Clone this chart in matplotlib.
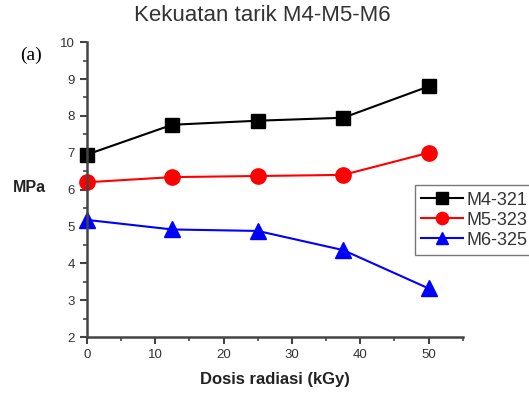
import matplotlib.pyplot as plt
from matplotlib.ticker import MultipleLocator

plt.rcParams['font.family'] = ['Liberation Sans', 'DejaVu Sans']

# Dosis radiasi (kGy) dan kekuatan tarik (MPa)
dosis = [0, 12.5, 25, 37.5, 50]
m4_321 = [6.95, 7.76, 7.87, 7.95, 8.80]
m5_323 = [6.20, 6.34, 6.37, 6.40, 7.00]
m6_325 = [5.18, 4.92, 4.88, 4.36, 3.32]

fig = plt.figure(figsize=(5.29, 3.98), dpi=100)
ax = fig.add_axes([0.164, 0.153, 0.711, 0.741])

ax.plot(dosis, m4_321, color='black', marker='s', markersize=10, lw=1.5,
        label='M4-321', clip_on=False)
ax.plot(dosis, m5_323, color='red', marker='o', markersize=11, lw=1.5,
        label='M5-323', clip_on=False)
ax.plot(dosis, m6_325, color='blue', marker='^', markersize=11, lw=1.5,
        label='M6-325', clip_on=False)

ax.set_xlim(0, 55)
ax.set_ylim(2, 10)
ax.xaxis.set_major_locator(MultipleLocator(10))
ax.xaxis.set_minor_locator(MultipleLocator(5))
ax.yaxis.set_major_locator(MultipleLocator(1))
ax.yaxis.set_minor_locator(MultipleLocator(0.5))

for s in ['top', 'right']:
    ax.spines[s].set_visible(False)
for s in ['left', 'bottom']:
    ax.spines[s].set_color('#444444')
    ax.spines[s].set_linewidth(1.8)

ax.tick_params(which='major', direction='out', length=5, width=1.5,
               color='#444444', labelsize=9.5, labelcolor='#333333')
ax.tick_params(which='minor', direction='out', length=3, width=1.2,
               color='#444444')

ax.set_xlabel('Dosis radiasi (kGy)', fontsize=12, fontweight='bold',
              color='#222222', labelpad=8)
fig.text(0.056, 0.53, 'MPa', fontsize=11.5, fontweight='bold',
         color='#222222', ha='center', va='center')
fig.text(0.038, 0.86, '(a)', fontsize=14, family='Liberation Serif',
         ha='left', va='center')
fig.text(0.495, 0.962, 'Kekuatan tarik M4-M5-M6', fontsize=16,
         color='#333333', ha='center', va='center')

leg = ax.legend(loc='upper left', bbox_to_anchor=(0.872, 0.515),
                fontsize=13, frameon=True, fancybox=False,
                edgecolor='#555555', borderpad=0.35, labelspacing=0.17,
                handlelength=2.3, handletextpad=0.2, borderaxespad=0,
                markerscale=0.8)
leg.get_frame().set_linewidth(1.0)
for t in leg.get_texts():
    t.set_color('#333333')

fig.savefig('out.png', dpi=100)
